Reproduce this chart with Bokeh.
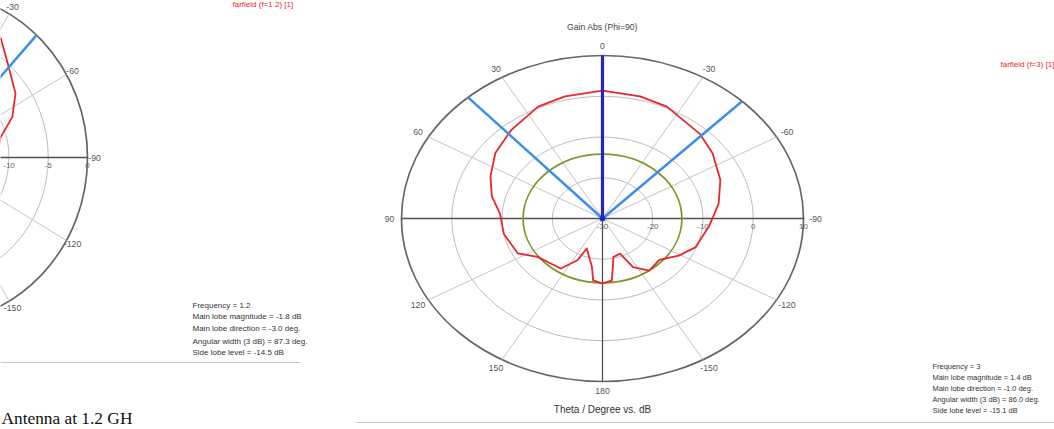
import numpy as np
from bokeh.plotting import figure
from bokeh.models import Range1d
from bokeh.core.properties import value
from bokeh.embed import file_html
from bokeh.resources import INLINE

# ---------------- data ----------------
# Right polar plot (Phi=90, f=3): theta in degrees (positive = left), gain in dB
r_theta = [-180, -173, -167, -158, -153, -144, -132, -121, -111, -95, -81, -68, -54, -43,
           -25, -14, 0, 14, 25, 40, 53, 65, 76, 87, 101, 117, 126, 137, 146, 154, 157,
           170, 173, 180]
r_gain = [-14.0, -14.7, -20.3, -20.7, -16.6, -14.2, -14.8, -12.3, -10.2, -8.7, -6.6, -4.7,
          -2.9, -1.6, 0.3, 0.9, 1.4, 0.9, 0.3, -1.7, -3.3, -5.4, -7.3, -9.6, -10.0, -11.1,
          -14.0, -14.9, -15.2, -18.6, -22.0, -17.9, -14.7, -14.0]
r_green_level = -14.2
r_beam_dirs = [42, -44]
r_main_dir = 0
r_ring_values = [-20, -10, 0, 10]
r_axis_labels = ["-30", "-20", "-10", "0", "10"]

# Left polar plot (f=1.2), only right half visible
l_theta = [-180, -150, -120, -90, -75, -65, -54.5, -41, -32, -20, 0, 20, 32, 41, 54.5, 65,
           75, 90, 120, 150, 180]
l_gain = [-12.0, -12.5, -12.0, -11.5, -10.8, -8.5, -6.7, -5.0, -3.1, -2.2, -1.8, -2.2, -3.1,
          -5.0, -6.7, -8.5, -10.8, -11.5, -12.0, -12.5, -12.0]
l_beam_dirs = [-42.5, 36]
l_ring_values = [-15, -10, -5, 0]
l_axis_labels = ["-20", "-15", "-10", "-5", "0"]

spoke_angles = [0, 30, 60, 90, 120, 150, 180, -150, -120, -90, -60, -30]

r_info = ["Frequency = 3", "Main lobe magnitude = 1.4 dB", "Main lobe direction = -1.0 deg.",
          "Angular width (3 dB) = 86.0 deg.", "Side lobe level = -15.1 dB"]
l_info = ["Frequency = 1.2", "Main lobe magnitude = -1.8 dB", "Main lobe direction = -3.0 deg.",
          "Angular width (3 dB) = 87.3 deg.", "Side lobe level = -14.5 dB"]

W, H = 1054, 429
p = figure(width=W, height=H, output_backend="svg", toolbar_location=None,
           x_range=Range1d(0, W), y_range=Range1d(0, H), min_border=0)
p.axis.visible = False
p.grid.visible = False
p.outline_line_color = None
p.background_fill_color = "white"
p.border_fill_color = "white"

FONT = value("Liberation Sans")


def to_xy(cx, cy, Rx, Ry, rmin, rmax, theta, gain):
    t = np.radians(np.asarray(theta, dtype=float))
    r = (np.asarray(gain, dtype=float) - rmin) / (rmax - rmin)
    r = np.clip(r, 0, None)
    return cx - r * Rx * np.sin(t), cy + r * Ry * np.cos(t)


def polar_plot(cx, cy_pix, Rx, Ry, rmin, rmax, ring_values, axis_labels, label_rad,
               xmin_vis):
    cy = H - cy_pix
    for rv in ring_values:
        rr = (rv - rmin) / (rmax - rmin)
        outer = rv == ring_values[-1]
        p.ellipse(x=cx, y=cy, width=2 * rr * Rx, height=2 * rr * Ry, fill_color=None,
                  line_color="#666666" if outer else "#bdbdbd",
                  line_width=1.7 if outer else 1.0)
    sa = np.array(spoke_angles, dtype=float)
    major = np.isin(sa, [0, 90, 180, -90])
    ex, ey = to_xy(cx, cy, Rx, Ry, rmin, rmax, sa, [rmax] * len(sa))
    p.segment(x0=[cx] * int((~major).sum()), y0=[cy] * int((~major).sum()),
              x1=ex[~major], y1=ey[~major], line_color="#c4c4c4", line_width=1)
    p.segment(x0=[cx] * int(major.sum()), y0=[cy] * int(major.sum()),
              x1=ex[major], y1=ey[major], line_color="#505050", line_width=1.3)
    lx, ly = to_xy(cx, cy, Rx * label_rad, Ry * label_rad, rmin, rmax, sa, [rmax] * len(sa))
    keep = lx > xmin_vis
    p.text(x=lx[keep], y=ly[keep], text=[str(int(a)) for a in sa[keep]],
           text_font=FONT, text_font_size="6.5pt", text_color="#555555",
           text_align="center", text_baseline="middle")
    n = len(axis_labels)
    rvals = np.linspace(0, 1, n)
    ax_x = cx + rvals * Rx
    keep = ax_x > xmin_vis
    p.text(x=ax_x[keep], y=[cy - 8] * int(keep.sum()),
           text=[axis_labels[i] for i in range(n) if keep[i]],
           text_font=FONT, text_font_size="6pt", text_color="#666666",
           text_align="center", text_baseline="middle")
    return cy


# ---- right plot ----
RCX, RCY, RRX, RRY = 602, 218, 201, 163
rcy = polar_plot(RCX, RCY, RRX, RRY, -30, 10, r_ring_values, r_axis_labels, 1.06, 350)
gx_r = (r_green_level + 30) / 40
p.ellipse(x=RCX, y=rcy, width=2 * gx_r * RRX, height=2 * gx_r * RRY, fill_color=None,
          line_color="#7a9a2a", line_width=1.8)
xr, yr = to_xy(RCX, rcy, RRX, RRY, -30, 10, r_theta, r_gain)
p.line(xr, yr, line_color="#e8262e", line_width=1.8, line_join="round")
bx, by = to_xy(RCX, rcy, RRX, RRY, -30, 10, r_beam_dirs, [10, 10])
p.segment(x0=[RCX, RCX], y0=[rcy, rcy], x1=bx, y1=by, line_color="#3a8fe8", line_width=2.5)
mx, my = to_xy(RCX, rcy, RRX, RRY, -30, 10, [r_main_dir], [10])
p.segment(x0=[RCX], y0=[rcy], x1=mx, y1=my, line_color="#2424c8", line_width=3.2)
p.scatter(x=[RCX], y=[rcy], size=5, color="#2424c8")

p.text(x=[RCX], y=[H - 26], text=["Gain Abs (Phi=90)"], text_font=FONT,
       text_font_size="6.5pt", text_color="#444444", text_align="center",
       text_baseline="middle")
p.text(x=[RCX], y=[H - 409], text=["Theta / Degree vs. dB"], text_font=FONT,
       text_font_size="7.5pt", text_color="#333333", text_align="center",
       text_baseline="middle")
p.text(x=[1000], y=[H - 64], text=["farfield (f=3) [1]"], text_font=FONT,
       text_font_size="6pt", text_color="#e8262e", text_align="left",
       text_baseline="middle")
p.text(x=[932] * 5, y=[H - v for v in [366, 377, 388, 399, 410]], text=r_info,
       text_font=FONT, text_font_size="5.6pt", text_color="#333333", text_align="left",
       text_baseline="middle")
p.segment(x0=[355], y0=[H - 422], x1=[W], y1=[H - 422], line_color="#c8c8c8", line_width=1)

# ---- left plot ----
LCX, LCY, LRX, LRY = -70, 157, 157, 166
lcy = polar_plot(LCX, LCY, LRX, LRY, -20, 0, l_ring_values, l_axis_labels, 1.045, -2)
xl, yl = to_xy(LCX, lcy, LRX, LRY, -20, 0, l_theta, l_gain)
p.line(xl, yl, line_color="#e8262e", line_width=1.8, line_join="round")
lbx, lby = to_xy(LCX, lcy, LRX, LRY, -20, 0, l_beam_dirs, [0, 0])
p.segment(x0=[LCX, LCX], y0=[lcy, lcy], x1=lbx, y1=lby, line_color="#3a8fe8", line_width=2.5)
p.text(x=[232], y=[H - 4], text=["farfield (f=1.2) [1]"], text_font=FONT,
       text_font_size="6pt", text_color="#e8262e", text_align="left",
       text_baseline="middle")
p.text(x=[192] * 5, y=[H - v for v in [305, 316, 328, 341, 352]], text=l_info,
       text_font=FONT, text_font_size="6pt", text_color="#333333", text_align="left",
       text_baseline="middle")
p.segment(x0=[0], y0=[H - 362], x1=[300], y1=[H - 362], line_color="#c8c8c8", line_width=1)

# caption (kept fully inside the window)
p.text(x=[1], y=[2], text=["Antenna at 1.2 GH"], text_font=value("Liberation Serif"),
       text_font_size="13pt", text_color="#111111", text_align="left", text_baseline="bottom")

open("out.html", "w").write(file_html(p, INLINE))
